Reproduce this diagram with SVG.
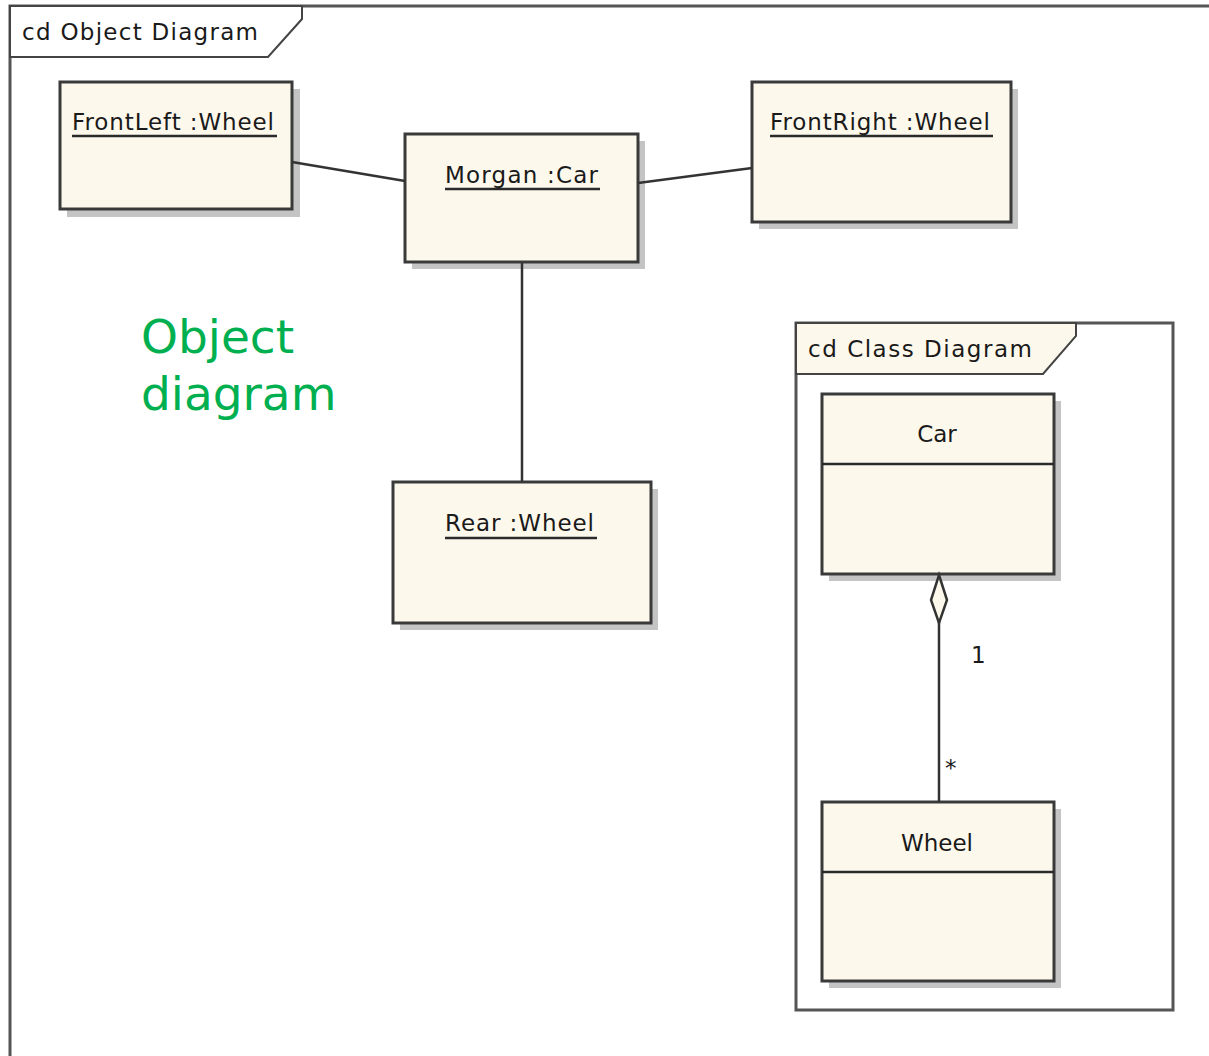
<svg xmlns="http://www.w3.org/2000/svg" width="1209" height="1056" viewBox="0 0 1209 1056">
  <style>
    .frame { fill: none; stroke: #555; stroke-width: 3; }
    .tab { stroke: #444; stroke-width: 2; }
    .box { fill: #fdf8ec; stroke: #3a3a3a; stroke-width: 3; }
    .shadow { fill: #c4c4c4; }
    .lbl { font-family: "DejaVu Sans", "Liberation Sans", sans-serif; font-size: 23px; fill: #1a1a1a; }
    .ul { stroke: #2a2a2a; stroke-width: 2.5; }
    .conn { stroke: #333; stroke-width: 2.5; fill: none; }
    .note { font-family: "DejaVu Sans", Verdana, sans-serif; font-size: 47px; fill: #00b050; }
  </style>
  <rect width="1209" height="1056" fill="#ffffff"/>

  <!-- outer frame: object diagram -->
  <g id="frame-object">
    <path class="frame" d="M10,1056 V6 H1209"/>
    <path class="tab" fill="#ffffff" d="M10,6 H302 V19 L268,57 H10 Z"/>
    <text class="lbl" x="22" y="40" textLength="236">cd Object Diagram</text>
  </g>

  <g id="frontleft">
    <rect class="shadow" x="67" y="89" width="233" height="128"/>
    <rect class="box" x="60" y="82" width="232" height="127"/>
    <text class="lbl" x="72" y="130" textLength="202">FrontLeft :Wheel</text>
    <line class="ul" x1="72" y1="136" x2="277" y2="136"/>
  </g>

  <g id="morgan">
    <rect class="shadow" x="412" y="141" width="233" height="128"/>
    <rect class="box" x="405" y="134" width="233" height="128"/>
    <text class="lbl" x="445" y="183" textLength="153">Morgan :Car</text>
    <line class="ul" x1="445" y1="189" x2="600" y2="189"/>
  </g>

  <g id="frontright">
    <rect class="shadow" x="759" y="89" width="259" height="140"/>
    <rect class="box" x="752" y="82" width="259" height="140"/>
    <text class="lbl" x="770" y="130" textLength="220">FrontRight :Wheel</text>
    <line class="ul" x1="770" y1="136" x2="993" y2="136"/>
  </g>

  <g id="rear">
    <rect class="shadow" x="400" y="489" width="258" height="141"/>
    <rect class="box" x="393" y="482" width="258" height="141"/>
    <text class="lbl" x="445" y="531" textLength="149">Rear :Wheel</text>
    <line class="ul" x1="445" y1="538" x2="597" y2="538"/>
  </g>

  <text class="note" x="141" y="353">Object</text>
  <text class="note" x="141" y="410">diagram</text>

  <!-- nested class diagram frame -->
  <g id="frame-class">
    <rect class="frame" x="796" y="323" width="377" height="687"/>
    <path class="tab" fill="#fdf8ec" d="M796,323 H1076 V336 L1043,374 H796 Z"/>
    <text class="lbl" x="808" y="357" textLength="224">cd Class Diagram</text>
  </g>

  <g id="car">
    <rect class="shadow" x="829" y="401" width="232" height="180"/>
    <rect class="box" x="822" y="394" width="232" height="180"/>
    <line class="ul" x1="822" y1="464" x2="1054" y2="464"/>
    <text class="lbl" x="937" y="442" text-anchor="middle">Car</text>
  </g>

  <g id="wheel">
    <rect class="shadow" x="829" y="809" width="232" height="179"/>
    <rect class="box" x="822" y="802" width="232" height="179"/>
    <line class="ul" x1="822" y1="872" x2="1054" y2="872"/>
    <text class="lbl" x="937" y="851" text-anchor="middle">Wheel</text>
  </g>

  <!-- links between objects, and the Car/Wheel aggregation -->
  <g id="connectors">
    <line class="conn" x1="292" y1="162" x2="405" y2="181"/>
    <line class="conn" x1="638" y1="183" x2="752" y2="168"/>
    <line class="conn" x1="522" y1="263" x2="522" y2="482"/>
    <line class="conn" x1="939" y1="622" x2="939" y2="802"/>
    <path d="M939,575 L947,600 L939,623 L931,600 Z" fill="#fdf8ec" stroke="#333" stroke-width="2.5"/>
    <text class="lbl" x="971" y="663" font-size="20">1</text>
    <text class="lbl" x="945" y="776" font-size="15">*</text>
  </g>
</svg>
